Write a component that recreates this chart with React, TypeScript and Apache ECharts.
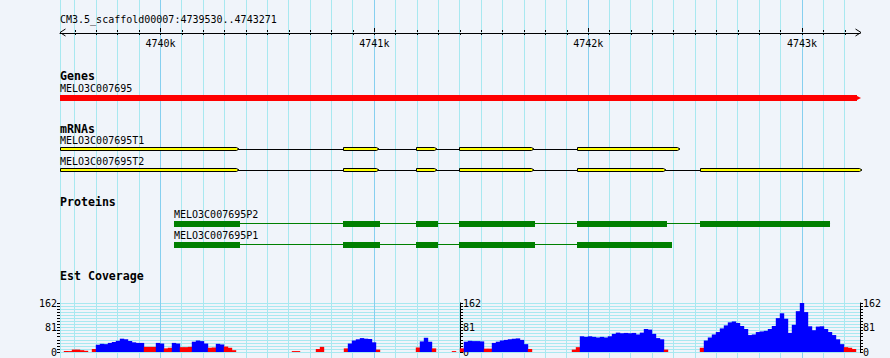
import React, { useEffect, useRef } from 'react';
import * as echarts from 'echarts';

// ---------------- data ----------------
const CHROM = 'CM3.5_scaffold00007';
const REGION_START = 4739530;
const REGION_END = 4743271;

const RULER_LABEL_TICKS = [4740000, 4741000, 4742000, 4743000];
const RULER_TICK_STEP = 100;

const TRACK_TITLES = ['Genes', 'mRNAs', 'Proteins', 'Est Coverage'];

const GENE_NAMES = ['MELO3C007695'];
const GENE_SPANS = [[4739530, 4743271]];

const MRNA_NAMES = ['MELO3C007695T1', 'MELO3C007695T2'];
const MRNA_T1_EXONS = [
  [4739530, 4740358], [4740855, 4741011], [4741196, 4741285],
  [4741397, 4741739], [4741949, 4742421],
];
const MRNA_T2_EXONS = [
  [4739530, 4740358], [4740855, 4741011], [4741196, 4741285],
  [4741397, 4741739], [4741949, 4742356], [4742524, 4743271],
];

const PROTEIN_NAMES = ['MELO3C007695P2', 'MELO3C007695P1'];
const PROTEIN_P2_CDS = [
  [4740063, 4740372], [4740853, 4741026], [4741195, 4741298],
  [4741396, 4741751], [4741948, 4742369], [4742523, 4743131],
];
const PROTEIN_P1_CDS = [
  [4740063, 4740372], [4740853, 4741026], [4741195, 4741298],
  [4741396, 4741751], [4741948, 4742392],
];

const COVERAGE_MAX = 162;
const COVERAGE_PIVOT = 20;
const COVERAGE_LABELS = [0, 81, 162];
// EST coverage in equal bins across the region (left to right)
const EST_COVERAGE = [
  0, 3, 3, 8, 8, 6, 4, 0, 10, 24,
  27, 26, 30, 33, 37, 44, 42, 36, 32, 30,
  30, 17, 17, 17, 30, 28, 12, 14, 30, 28,
  16, 16, 17, 34, 38, 36, 28, 14, 15, 27,
  25, 18, 14, 6, 0, 0, 0, 0, 0, 0,
  0, 0, 0, 0, 0, 0, 0, 0, 3, 3,
  0, 0, 0, 0, 10, 17, 0, 0, 0, 0,
  0, 12, 28, 38, 42, 46, 44, 43, 32, 8,
  0, 0, 0, 0, 0, 0, 0, 0, 0, 15,
  35, 47, 34, 12, 0, 0, 0, 0, 3, 0,
  12, 34, 37, 36, 36, 35, 11, 11, 30, 34,
  38, 40, 42, 44, 45, 40, 26, 10, 0, 0,
  0, 0, 0, 0, 0, 0, 0, 0, 8, 16,
  52, 50, 52, 50, 48, 50, 48, 52, 60, 64,
  62, 63, 62, 63, 58, 64, 76, 74, 60, 46,
  42, 8, 0, 0, 0, 0, 0, 0, 0, 0,
  14, 38, 48, 58, 66, 78, 88, 98, 101, 96,
  86, 76, 56, 58, 66, 68, 70, 76, 86, 112,
  128, 110, 63, 90, 135, 162, 132, 85, 72, 84,
  85, 76, 66, 56, 42, 26, 16, 14, 10, 0,
];

// ---------------- style / layout ----------------
const W = 890;
const H = 358;
const PLOT_LEFT = 60;
const PLOT_WIDTH = 800;
const FONT = "'DejaVu Sans Mono', monospace";
const BG = '#F0F4FA';
const GRID_MINOR = '#A8E8F0';
const GRID_MAJOR = '#86CFEF';
const BLUE = '#0000FF';
const RED = '#FF0000';
const YELLOW = '#FFFF00';
const GREEN = '#008000';
const TITLE_Y = [76, 128.5, 202, 276];

const rulerTicks: number[] = [];
for (let p = Math.ceil(REGION_START / RULER_TICK_STEP) * RULER_TICK_STEP; p <= REGION_END; p += RULER_TICK_STEP) {
  rulerTicks.push(p);
}
const gridLinePositions = [REGION_START, ...rulerTicks];

const binSize = (REGION_END - REGION_START) / EST_COVERAGE.length;
const binLabels = EST_COVERAGE.map((_, i) => String(Math.round(REGION_START + i * binSize)));

type Row = {
  kind: 'gene' | 'mrna' | 'protein';
  name: string;
  parts: number[][];
  labelY: number;
  barTop: number;
  barBottom: number;
  lineY: number;
};

const ROWS: Row[] = [
  { kind: 'gene', name: GENE_NAMES[0], parts: GENE_SPANS, labelY: 88, barTop: 95, barBottom: 101, lineY: 98 },
  { kind: 'mrna', name: MRNA_NAMES[0], parts: MRNA_T1_EXONS, labelY: 140.5, barTop: 147.5, barBottom: 150.5, lineY: 149.5 },
  { kind: 'mrna', name: MRNA_NAMES[1], parts: MRNA_T2_EXONS, labelY: 161.5, barTop: 168.5, barBottom: 171.5, lineY: 170.5 },
  { kind: 'protein', name: PROTEIN_NAMES[0], parts: PROTEIN_P2_CDS, labelY: 214.5, barTop: 221, barBottom: 227, lineY: 223.5 },
  { kind: 'protein', name: PROTEIN_NAMES[1], parts: PROTEIN_P1_CDS, labelY: 235, barTop: 242, barBottom: 248, lineY: 244.5 },
];

export default function App() {
  const ref = useRef<HTMLDivElement>(null);

  useEffect(() => {
    if (!ref.current) return;
    const chart = echarts.init(ref.current, null, { renderer: 'svg' });

    const labelFont = `10px ${FONT}`;

    const renderGrid = (params: any, api: any) => {
      const pos = api.value(0);
      const x = Math.floor(api.coord([pos, 0])[0]) + 0.5;
      return {
        type: 'line',
        shape: { x1: x, y1: 0, x2: x, y2: H },
        style: { stroke: pos % 1000 === 0 ? GRID_MAJOR : GRID_MINOR, lineWidth: 1 },
        silent: true,
      };
    };

    const renderRow = (params: any, api: any) => {
      const row = ROWS[api.value(1)];
      const X = (p: number) => api.coord([p, 0])[0];
      const children: any[] = [];
      const first = row.parts[0][0];
      const last = row.parts[row.parts.length - 1][1];
      if (row.kind === 'gene') {
        const x0 = X(first);
        const x1 = Math.round(X(last));
        const t = row.barTop;
        const b = row.barBottom;
        children.push({
          type: 'polygon',
          shape: {
            points: [[x0, t], [x1 - 3, t], [x1 - 3, t + 1], [x1 + 1, (t + b) / 2], [x1 - 3, b - 1], [x1 - 3, b], [x0, b]],
          },
          style: { fill: RED },
        });
      } else if (row.kind === 'mrna') {
        children.push({
          type: 'line',
          shape: { x1: X(first), y1: row.lineY, x2: X(last), y2: row.lineY },
          style: { stroke: '#000', lineWidth: 1 },
        });
        row.parts.forEach(([s, e]) => {
          const x0 = Math.round(X(s)) + 0.5;
          const x1 = Math.round(X(e)) + 0.5;
          const t = row.barTop;
          const b = row.barBottom;
          const m = (t + b) / 2;
          children.push({
            type: 'polygon',
            shape: { points: [[x0, t], [x1 - 1, t], [x1 + 1.5, m], [x1 - 1, b], [x0, b]] },
            style: { fill: YELLOW, stroke: '#000', lineWidth: 1 },
          });
        });
      } else {
        children.push({
          type: 'line',
          shape: { x1: X(first), y1: row.lineY, x2: X(last), y2: row.lineY },
          style: { stroke: GREEN, lineWidth: 1 },
        });
        row.parts.forEach(([s, e]) => {
          const x0 = Math.round(X(s));
          const x1 = Math.round(X(e));
          children.push({
            type: 'rect',
            shape: { x: x0, y: row.barTop, width: x1 - x0, height: row.barBottom - row.barTop },
            style: { fill: GREEN },
          });
        });
      }
      children.push({
        type: 'text',
        x: Math.round(X(first)),
        y: row.labelY,
        style: { text: row.name, font: labelFont, fill: '#000', align: 'left', verticalAlign: 'middle' },
      });
      return { type: 'group', children };
    };

    const renderArrows = (params: any, api: any) => {
      const xs = api.coord([REGION_START, 0])[0];
      const xe = api.coord([REGION_END, 0])[0];
      const y = 32.5;
      return {
        type: 'group',
        children: [
          { type: 'polyline', shape: { points: [[xs + 5.5, y - 3.5], [xs, y], [xs + 5.5, y + 3.5]] }, style: { stroke: '#000', lineWidth: 1, fill: 'none' } },
          { type: 'polyline', shape: { points: [[xe - 4.5, y - 3.5], [xe + 1, y], [xe - 4.5, y + 3.5]] }, style: { stroke: '#000', lineWidth: 1, fill: 'none' } },
        ],
      };
    };

    const covAxisBase = {
      gridIndex: 2,
      type: 'value',
      min: 0,
      max: COVERAGE_MAX,
      interval: COVERAGE_MAX / 16,
      axisLine: { show: true, lineStyle: { color: '#000', width: 1 } },
      axisTick: { show: true, length: 3, lineStyle: { color: '#000', width: 1 } },
      axisLabel: {
        show: true,
        margin: 3,
        color: '#000',
        fontFamily: FONT,
        fontSize: 10,
        formatter: (v: number) => (COVERAGE_LABELS.includes(Math.round(v * 1000) / 1000) ? String(Math.round(v)) : ''),
      },
      splitLine: { show: false },
    };

    const rulerAxisBase = {
      gridIndex: 1,
      type: 'value',
      min: REGION_START,
      max: REGION_END,
      position: 'top',
      z: 5,
      splitLine: { show: false },
    };

    const option: any = {
      animation: false,
      backgroundColor: BG,
      title: {
        text: `${CHROM}:${REGION_START}..${REGION_END}`,
        left: PLOT_LEFT,
        top: 14,
        padding: 0,
        textStyle: { fontFamily: FONT, fontSize: 10, fontWeight: 'normal', color: '#000' },
      },
      graphic: TRACK_TITLES.map((t, i) => ({
        type: 'text',
        x: PLOT_LEFT,
        y: TITLE_Y[i],
        z: 10,
        style: { text: t, font: `bold 11.6px ${FONT}`, fill: '#000', verticalAlign: 'middle', align: 'left' },
      })),
      grid: [
        { left: PLOT_LEFT, width: PLOT_WIDTH, top: 0, height: H },
        { left: PLOT_LEFT, width: PLOT_WIDTH, top: 32, height: 1 },
        { left: PLOT_LEFT, width: PLOT_WIDTH, top: 303, height: 49 },
      ],
      xAxis: [
        { gridIndex: 0, type: 'value', min: REGION_START, max: REGION_END, show: false },
        {
          ...rulerAxisBase,
          axisLine: { show: true, lineStyle: { color: '#000', width: 1 } },
          axisTick: { show: true, inside: true, length: 2, customValues: rulerTicks, lineStyle: { color: '#000' } },
          axisLabel: {
            show: true,
            inside: true,
            margin: 6,
            customValues: RULER_LABEL_TICKS,
            formatter: (v: number) => `${v / 1000}k`,
            color: '#000',
            fontFamily: FONT,
            fontSize: 10,
          },
        },
        {
          ...rulerAxisBase,
          axisLine: { show: false },
          axisTick: { show: true, length: 2, customValues: rulerTicks, lineStyle: { color: '#000' } },
          axisLabel: { show: false },
        },
        {
          ...rulerAxisBase,
          axisLine: { show: false },
          axisTick: { show: true, length: 4, customValues: RULER_LABEL_TICKS, lineStyle: { color: '#000' } },
          axisLabel: { show: false },
        },
        { gridIndex: 2, type: 'category', data: binLabels, show: false },
      ],
      yAxis: [
        { gridIndex: 0, type: 'value', min: 0, max: H, inverse: true, show: false },
        { gridIndex: 1, type: 'value', min: 0, max: 1, show: false },
        {
          ...covAxisBase,
          position: 'left',
          splitLine: { show: true, lineStyle: { color: GRID_MINOR, width: 1 } },
        },
        { ...covAxisBase, position: 'right', offset: -PLOT_WIDTH / 2 },
        { ...covAxisBase, position: 'right', offset: 0 },
      ],
      series: [
        {
          type: 'custom',
          name: 'grid',
          xAxisIndex: 0,
          yAxisIndex: 0,
          z: 1,
          silent: true,
          clip: false,
          data: gridLinePositions.map((p) => [p, 0]),
          renderItem: renderGrid,
        },
        {
          type: 'bar',
          name: 'Est Coverage',
          xAxisIndex: 4,
          yAxisIndex: 2,
          z: 3,
          silent: true,
          barWidth: 4.4,
          barGap: '-100%',
          data: EST_COVERAGE.map((v) => ({
            value: v,
            itemStyle: { color: v >= COVERAGE_PIVOT ? BLUE : RED, borderWidth: 0 },
          })),
        },
        {
          type: 'custom',
          name: 'features',
          xAxisIndex: 0,
          yAxisIndex: 0,
          z: 4,
          silent: true,
          clip: false,
          data: ROWS.map((_, i) => [REGION_START, i]),
          renderItem: renderRow,
        },
        {
          type: 'custom',
          name: 'ruler-arrows',
          xAxisIndex: 0,
          yAxisIndex: 0,
          z: 5,
          silent: true,
          clip: false,
          data: [[REGION_START, 0]],
          renderItem: renderArrows,
        },
      ],
    };

    chart.setOption(option);
    return () => chart.dispose();
  }, []);

  return (
    <div
      ref={ref}
      style={{ position: 'fixed', left: 0, top: 0, width: W, height: H, background: BG }}
    />
  );
}
